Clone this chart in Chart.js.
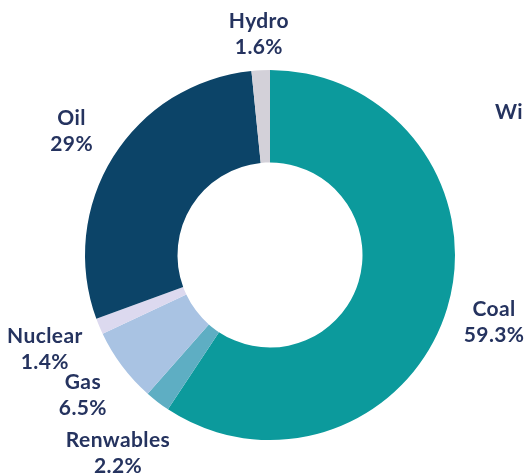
<!DOCTYPE html>
<html>
<head>
<meta charset="utf-8">
<script src="https://cdn.jsdelivr.net/npm/chart.js@4/dist/chart.umd.min.js"></script>
<style>
  html, body { margin: 0; padding: 0; background: #fff; }
  #wrap { width: 524px; height: 476px; }
</style>
</head>
<body>
<div id="wrap"><canvas id="mix" width="524" height="476"></canvas></div>
<script>
// energy mix, clockwise from 12 o'clock
const sources = ['Coal', 'Renwables', 'Gas', 'Nuclear', 'Oil', 'Hydro'];
const shares = [59.3, 2.2, 6.5, 1.4, 29, 1.6];
const shareLabels = ['59.3%', '2.2%', '6.5%', '1.4%', '29%', '1.6%'];
const sliceColors = ['#0c9a9c', '#5eaec3', '#a9c3e3', '#dcd9ef', '#0c4468', '#d3d1d9'];

const INK = '#25335f';
const FONT = 'bold 21px Lato, "Open Sans", sans-serif';

// two-line labels placed outside each arc along its mid angle
const outsideLabels = {
  id: 'outsideLabels',
  afterDraw(chart, args, opts) {
    const ctx = chart.ctx;
    const meta = chart.getDatasetMeta(0);
    ctx.save();
    ctx.font = FONT;
    ctx.letterSpacing = '0.4px';
    ctx.fillStyle = INK;
    ctx.textAlign = 'center';
    ctx.textBaseline = 'middle';
    meta.data.forEach((arc, i) => {
      const p = arc.getProps(['x', 'y', 'startAngle', 'endAngle', 'outerRadius'], true);
      const mid = (p.startAngle + p.endAngle) / 2;
      const r = p.outerRadius + (opts.gap[i] ?? opts.gap.default);
      const x = p.x + Math.cos(mid) * r;
      const y = p.y + Math.sin(mid) * r;
      ctx.fillText(sources[i], x, y - 13);
      ctx.fillText(shareLabels[i], x, y + 13);
    });
    // next label in the row, running off the right edge
    ctx.textAlign = 'left';
    ctx.textBaseline = 'alphabetic';
    ctx.fillText('Wind', 495, 119);
    ctx.restore();
  }
};

new Chart(document.getElementById('mix'), {
  type: 'doughnut',
  data: {
    labels: sources,
    datasets: [{
      data: shares,
      backgroundColor: sliceColors,
      borderWidth: 0
    }]
  },
  options: {
    responsive: false,
    animation: false,
    cutout: '50%',
    layout: { padding: { left: 85, right: 69, top: 70, bottom: 36 } },
    plugins: {
      legend: { display: false },
      tooltip: { enabled: false },
      outsideLabels: { gap: { default: 49, 1: 65, 3: 59, 5: 36 } }
    }
  },
  plugins: [outsideLabels]
});
</script>
</body>
</html>
